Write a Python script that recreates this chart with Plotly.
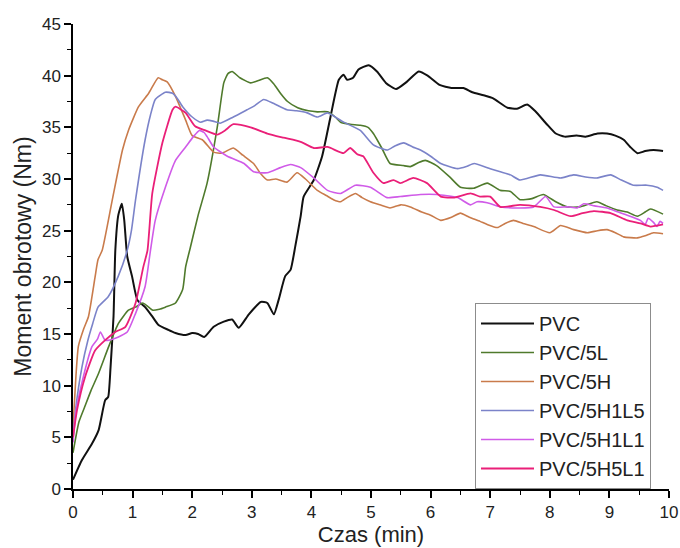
import plotly.graph_objects as go

# ---- data (time in min, torque in Nm) ----
series_names = ["PVC", "PVC/5L", "PVC/5H", "PVC/5H1L5", "PVC/5H1L1", "PVC/5H5L1"]

pvc_t = [0, 0.15, 0.32, 0.43, 0.54, 0.59, 0.63, 0.68, 0.71, 0.76, 0.82, 0.86, 0.91, 0.99, 1.08, 1.21, 1.33, 1.43, 1.6, 1.72, 1.89, 2.0, 2.1, 2.2, 2.36, 2.53, 2.67, 2.78, 2.95, 3.15, 3.26, 3.37, 3.45, 3.56, 3.65, 3.73, 3.82, 3.87, 4.04, 4.18, 4.32, 4.46, 4.54, 4.6, 4.7, 4.79, 4.96, 5.1, 5.25, 5.42, 5.6, 5.8, 5.95, 6.15, 6.35, 6.55, 6.7, 6.89, 7.05, 7.29, 7.45, 7.62, 7.75, 7.95, 8.1, 8.25, 8.45, 8.6, 8.8, 8.96, 9.1, 9.24, 9.35, 9.47, 9.6, 9.74, 9.9]
pvc_v = [0.9, 2.8, 4.4, 5.7, 8.6, 8.9, 11.8, 16.7, 23.1, 26.5, 27.6, 26, 22.5, 20.6, 18.3, 17.6, 16.7, 15.9, 15.4, 15.1, 14.9, 15.1, 15.0, 14.7, 15.7, 16.2, 16.4, 15.6, 16.9, 18.1, 18, 16.9, 18.3, 20.6, 21.2, 23.5, 26.4, 28.3, 29.9, 32.2, 36, 39.6, 40.1, 39.6, 39.8, 40.6, 41, 40.4, 39.3, 38.7, 39.4, 40.4, 40, 39.1, 38.8, 38.8, 38.4, 38.1, 37.8, 36.9, 36.8, 37.2, 36.6, 35.3, 34.4, 34.1, 34.2, 34.1, 34.4, 34.4, 34.2, 33.8, 33.1, 32.5, 32.7, 32.8, 32.7]

l5_t = [0, 0.1, 0.2, 0.3, 0.43, 0.6, 0.76, 0.93, 1.05, 1.17, 1.25, 1.34, 1.45, 1.55, 1.72, 1.84, 1.89, 1.97, 2.1, 2.25, 2.42, 2.53, 2.6, 2.67, 2.8, 2.98, 3.1, 3.26, 3.37, 3.48, 3.6, 3.77, 3.95, 4.1, 4.27, 4.4, 4.49, 4.65, 4.82, 4.95, 5.04, 5.18, 5.32, 5.54, 5.66, 5.8, 5.91, 6.1, 6.32, 6.5, 6.72, 6.95, 7.17, 7.34, 7.5, 7.7, 7.89, 8.1, 8.29, 8.5, 8.79, 8.95, 9.13, 9.3, 9.47, 9.6, 9.69, 9.9]
l5_v = [3.5, 6.5, 8, 9.5, 11.2, 13.8, 16, 17.3, 17.6, 18, 17.7, 17.3, 17.4, 17.6, 18, 19.3, 21.5, 23.4, 26.5, 29.6, 35, 39.3, 40.2, 40.4, 39.8, 39.3, 39.5, 39.8, 39.2, 38.3, 37.5, 36.9, 36.6, 36.5, 36.5, 36, 35.5, 35.3, 35.2, 35, 34.4, 33, 31.5, 31.3, 31.2, 31.6, 31.8, 31.3, 30.2, 29.2, 29.1, 29.6, 28.9, 28.8, 28, 28.1, 28.5, 27.8, 27.3, 27.3, 27.8, 27.4, 27, 26.8, 26.4, 26.8, 27.1, 26.6]

h5_t = [0, 0.05, 0.09, 0.18, 0.26, 0.37, 0.42, 0.49, 0.66, 0.83, 0.93, 1.1, 1.27, 1.43, 1.5, 1.58, 1.72, 1.89, 2.0, 2.17, 2.36, 2.5, 2.69, 2.85, 3.03, 3.15, 3.26, 3.4, 3.59, 3.76, 3.9, 4.1, 4.25, 4.37, 4.49, 4.6, 4.74, 4.85, 4.99, 5.15, 5.32, 5.5, 5.66, 5.85, 6.0, 6.17, 6.35, 6.5, 6.65, 6.83, 6.95, 7.12, 7.25, 7.39, 7.55, 7.73, 8.0, 8.18, 8.4, 8.63, 8.8, 8.96, 9.1, 9.24, 9.47, 9.6, 9.74, 9.9]
h5_v = [6, 11, 13.8, 15.5, 16.7, 20.5, 22.2, 23.1, 28, 32.8, 34.7, 37, 38.3, 39.8, 39.6, 39.4, 38, 35.7, 34.2, 33.8, 32.6, 32.5, 33, 32.3, 31.5, 30.5, 29.9, 30, 29.7, 30.6, 30, 28.9, 28.4, 28, 27.8, 28.2, 28.6, 28.2, 27.8, 27.5, 27.2, 27.5, 27.3, 26.8, 26.5, 26, 26.3, 26.7, 26.3, 25.9, 25.6, 25.3, 25.7, 26, 25.7, 25.4, 24.8, 25.5, 25.1, 24.8, 25, 25.1, 24.8, 24.4, 24.3, 24.5, 24.8, 24.7]

h1l5_t = [0, 0.05, 0.15, 0.25, 0.33, 0.42, 0.59, 0.76, 0.91, 0.98, 1.05, 1.21, 1.3, 1.38, 1.55, 1.67, 1.75, 1.84, 2.0, 2.14, 2.25, 2.35, 2.47, 2.69, 2.92, 3.05, 3.2, 3.37, 3.59, 3.75, 3.93, 4.1, 4.27, 4.4, 4.54, 4.82, 5.04, 5.27, 5.4, 5.55, 5.7, 5.83, 6.0, 6.17, 6.45, 6.6, 6.73, 7.0, 7.17, 7.34, 7.5, 7.84, 8.18, 8.4, 8.6, 8.79, 9.02, 9.2, 9.4, 9.63, 9.8, 9.9]
h1l5_v = [5, 8, 11.8, 14.4, 16, 17.6, 18.6, 20.6, 23.1, 25, 28, 33.8, 36.2, 37.7, 38.4, 38.3, 37.8, 37, 36, 35.5, 35.7, 35.6, 35.4, 36, 36.7, 37.1, 37.7, 37.3, 36.7, 36.6, 36.4, 36, 36.4, 36, 35.5, 34.7, 33.3, 32.8, 33.2, 33.5, 33.1, 32.8, 32.2, 31.5, 31, 31.2, 31.5, 31, 30.7, 30.4, 29.9, 30.4, 30.1, 30.4, 30.2, 30.1, 30.4, 29.9, 29.4, 29.4, 29.2, 28.9]

h1l1_t = [0, 0.05, 0.15, 0.32, 0.41, 0.46, 0.54, 0.71, 0.91, 1.05, 1.21, 1.3, 1.38, 1.55, 1.72, 1.89, 2.02, 2.12, 2.2, 2.25, 2.36, 2.59, 2.87, 3.03, 3.26, 3.48, 3.65, 3.82, 4.04, 4.27, 4.49, 4.74, 4.99, 5.27, 5.49, 5.83, 6.1, 6.45, 6.67, 6.78, 6.95, 7.17, 7.5, 7.73, 7.93, 8.07, 8.3, 8.46, 8.57, 8.75, 8.96, 9.15, 9.3, 9.52, 9.6, 9.65, 9.74, 9.8, 9.85, 9.9]
h1l1_v = [4.5, 7.5, 10.3, 13.8, 14.5, 15.2, 14.4, 14.6, 15.2, 17, 19.6, 23.1, 26, 29.2, 31.8, 33.1, 34.1, 34.7, 34.5, 34.1, 33.1, 32.2, 31.5, 30.7, 30.6, 31.1, 31.4, 31.1, 30.1, 28.9, 28.6, 29.4, 29.2, 28.2, 28.3, 28.5, 28.5, 28.2, 27.5, 27.8, 27.7, 27.3, 27.2, 27.3, 28.3, 27.3, 27.3, 27.2, 27.6, 27.4, 27.2, 26.8, 26.5, 26, 25.6, 26.2, 25.8, 25.4, 25.9, 25.7]

h5l1_t = [0, 0.07, 0.2, 0.37, 0.54, 0.71, 0.88, 1.05, 1.18, 1.25, 1.33, 1.5, 1.67, 1.72, 1.89, 2.05, 2.22, 2.42, 2.55, 2.69, 2.98, 3.26, 3.53, 3.82, 4.04, 4.27, 4.54, 4.65, 4.77, 4.87, 5.04, 5.21, 5.38, 5.49, 5.71, 5.94, 6.17, 6.4, 6.67, 6.83, 7.0, 7.17, 7.5, 7.84, 8.07, 8.35, 8.55, 8.74, 9.02, 9.3, 9.52, 9.69, 9.9]
h5l1_v = [5, 7.7, 10.8, 13.4, 14.4, 15.2, 15.7, 18, 21.5, 23.1, 28.6, 33.5, 36.7, 37, 36.4, 35.1, 34.7, 34.3, 34.7, 35.3, 35, 34.4, 34, 33.6, 33, 33.1, 32.5, 33, 32.4, 32.2, 30.6, 29.6, 29.9, 29.6, 30.1, 29.6, 28.3, 28.2, 28.6, 28.3, 28.3, 27.3, 27.5, 27.3, 27, 26.4, 26.7, 26.9, 26.7, 26, 25.7, 25.4, 25.6]

x_ticks = [0, 1, 2, 3, 4, 5, 6, 7, 8, 9, 10]
y_ticks = [0, 5, 10, 15, 20, 25, 30, 35, 40, 45]

colors = ["#111111", "#4f7a2c", "#c97b4b", "#7b83c9", "#d05be8", "#ea1f78"]
xs = [pvc_t, l5_t, h5_t, h1l5_t, h1l1_t, h5l1_t]
ys = [pvc_v, l5_v, h5_v, h1l5_v, h1l1_v, h5l1_v]
widths = [2.0, 1.6, 1.6, 1.6, 1.6, 1.8]

fig = go.Figure()
for name, x, y, c, w in zip(series_names, xs, ys, colors, widths):
    fig.add_trace(go.Scatter(x=x, y=y, mode="lines", name=name,
                             line=dict(color=c, width=w, shape="spline", smoothing=0.5)))

font_family = "Liberation Sans, Arial, sans-serif"
fig.update_layout(
    width=680, height=548,
    margin=dict(l=73, r=11, t=24, b=59),
    paper_bgcolor="white", plot_bgcolor="white",
    font=dict(family=font_family, color="#222222", size=17),
    showlegend=True,
    legend=dict(x=0.6745, y=0.40, xanchor="left", yanchor="top",
                bgcolor="white", bordercolor="#8c8c8c", borderwidth=1,
                font=dict(size=20, family=font_family, color="#222222"),
                itemwidth=53, tracegroupgap=0),
)
fig.update_xaxes(range=[0, 10], tickvals=x_ticks, showgrid=False, zeroline=False,
                 automargin=False,
                 showline=True, linecolor="black", linewidth=1.5,
                 ticks="outside", ticklen=7, tickwidth=1.5, tickcolor="black",
                 minor=dict(ticks="outside", ticklen=4, tickwidth=1.2, tickcolor="black", dtick=0.5, showgrid=False),
                 tickfont=dict(size=17),
                 title=dict(text="Czas (min)", font=dict(size=22), standoff=4))
fig.update_yaxes(range=[0, 45], tickvals=y_ticks, showgrid=False, zeroline=False,
                 automargin=False,
                 showline=True, linecolor="black", linewidth=1.5,
                 ticks="outside", ticklen=7, tickwidth=1.5, tickcolor="black",
                 minor=dict(ticks="outside", ticklen=4, tickwidth=1.2, tickcolor="black", dtick=2.5, showgrid=False),
                 tickfont=dict(size=17),
                 title=dict(text="Moment obrotowy (Nm)", font=dict(size=23), standoff=4))

fig.write_html("out.html")
